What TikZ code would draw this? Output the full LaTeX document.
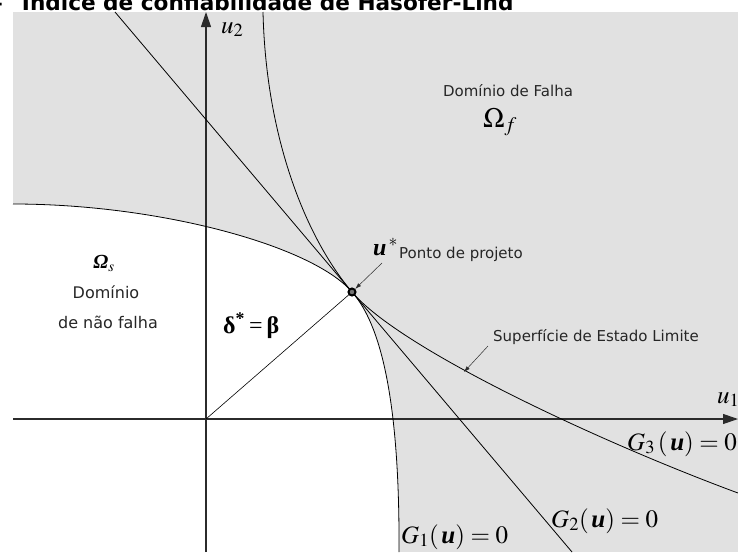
\documentclass[tikz,border=0pt]{standalone}
\usepackage{amsmath}
\usepackage{mathptmx}
\usepackage[no-math]{fontspec}
\usetikzlibrary{arrows.meta}
\newfontfamily\labelfont{DejaVu Sans}
\newfontfamily\serifbold{Liberation Serif}
\definecolor{failgray}{HTML}{E1E1E1}
\definecolor{inkgray}{HTML}{2B2B2B}
\newcommand{\bu}{\text{\serifbold\bfseries\itshape u}}
\tikzset{
  axisline/.style={-{Triangle[length=15pt,width=10pt]}, line width=1.1pt, draw=inkgray},
  limitcurve/.style={line width=0.8pt, draw=black},
  pointer/.style={-{Latex[length=6pt,width=4pt]}, line width=0.5pt, draw=inkgray},
  sanslabel/.style={font=\labelfont\fontsize{15}{18}\selectfont, text=black!85, inner sep=0pt},
  mathlabel/.style={font=\fontsize{25}{30}\selectfont, inner sep=0pt},
  titletext/.style={font=\labelfont\bfseries\fontsize{21.6}{26}\selectfont, inner sep=0pt}
}
\begin{document}
\begin{tikzpicture}[x=1pt,y=-1pt]
\useasboundingbox (0,0) rectangle (738,552);
% caption, cut at the top edge
\begin{scope}
\clip (0,0) rectangle (738,552);
\node[titletext, anchor=base west] (title) at (-8,10) {–\hspace{19pt}Índice de confiabilidade de Hasofer-Lind};
\end{scope}

\coordinate (o) at (206,419);
\coordinate (dp) at (352,292);
\coordinate (g1a) at (13,204);
\coordinate (g1b) at (399,552);
\coordinate (g2a) at (115,12);
\coordinate (g2b) at (572,552);
\coordinate (g3a) at (263,12);
\coordinate (g3b) at (738,493);

% failure and safe domains
\fill[failgray] (13,12) rectangle (738,552);
\fill[white] (g1a) .. controls (160,204) and (313,246) .. (dp)
  .. controls (375,318) and (400,380) .. (g1b) -- (13,552) -- cycle;

% axes
\coordinate (u2foot) at (206,552);
\coordinate (u2tip) at (206,12);
\coordinate (u1start) at (13,419);
\coordinate (u1tip) at (738,419);
\draw[axisline] (u2foot) -- (u2tip);
\draw[axisline] (u1start) -- (u1tip);
\node[mathlabel, anchor=base west] (u2) at (221,33) {$u_2$};
\node[mathlabel, anchor=base west] (u1) at (717,403) {$u_1$};

% limit state functions
\draw[limitcurve] (g1a) .. controls (160,204) and (313,246) .. (dp)
  .. controls (375,318) and (400,380) .. (g1b);
\draw[limitcurve] (g2a) -- (g2b);
\draw[limitcurve] (g3a) .. controls (266,140) and (307,239) .. (dp)
  .. controls (400,349) and (600,442) .. (g3b);
\draw[line width=0.6pt] (o) -- (dp);

\node[draw, circle, line width=2pt, fill=black!55, inner sep=0pt, minimum size=7pt] (pt) at (dp) {};

% labels
\node[mathlabel, anchor=base west] (g1lab) at (401,543) {$G_1(\,\bu)=0$};
\node[mathlabel, anchor=base west] (g2lab) at (551,527) {$G_2(\,\bu)=0$};
\node[mathlabel, anchor=base west] (g3lab) at (627,450) {$G_3\,(\,\bu)=0$};

\node[sanslabel] (fail) at (508,91) {Domínio de Falha};
\node[font=\fontsize{28}{32}\selectfont, inner sep=0pt, anchor=base] (omf) at (500,127) {$\Omega_f$};
\node[font=\serifbold\bfseries\itshape\fontsize{20}{24}\selectfont, inner sep=0pt] (oms) at (104,263) {Ω$_{\mathit{s}}$};
\node[sanslabel, font=\labelfont\fontsize{16}{19}\selectfont] (safe1) at (106,292) {Domínio};
\node[sanslabel, font=\labelfont\fontsize{16}{19}\selectfont] (safe2) at (108,322) {de não falha};
\node[font=\serifbold\bfseries\fontsize{24}{28}\selectfont, inner sep=0pt, anchor=base west] (beta) at (223,333) {δ\textsuperscript{*}\,{\mdseries =}\,β};

\node[font=\fontsize{24}{28}\selectfont, inner sep=0pt, anchor=base west] (ustar) at (373,255) {$\bu^{\,*}$};
\node[sanslabel, anchor=base west] (proj) at (399,258) {Ponto de projeto};
\coordinate (utail) at (382,263);
\draw[pointer] (utail) -- (pt);

\node[sanslabel, anchor=base west] (surf) at (493,341) {Superfície de Estado Limite};
\coordinate (stail) at (488,346);
\coordinate (shead) at (464,372);
\draw[pointer] (stail) -- (shead);
\end{tikzpicture}
\end{document}
